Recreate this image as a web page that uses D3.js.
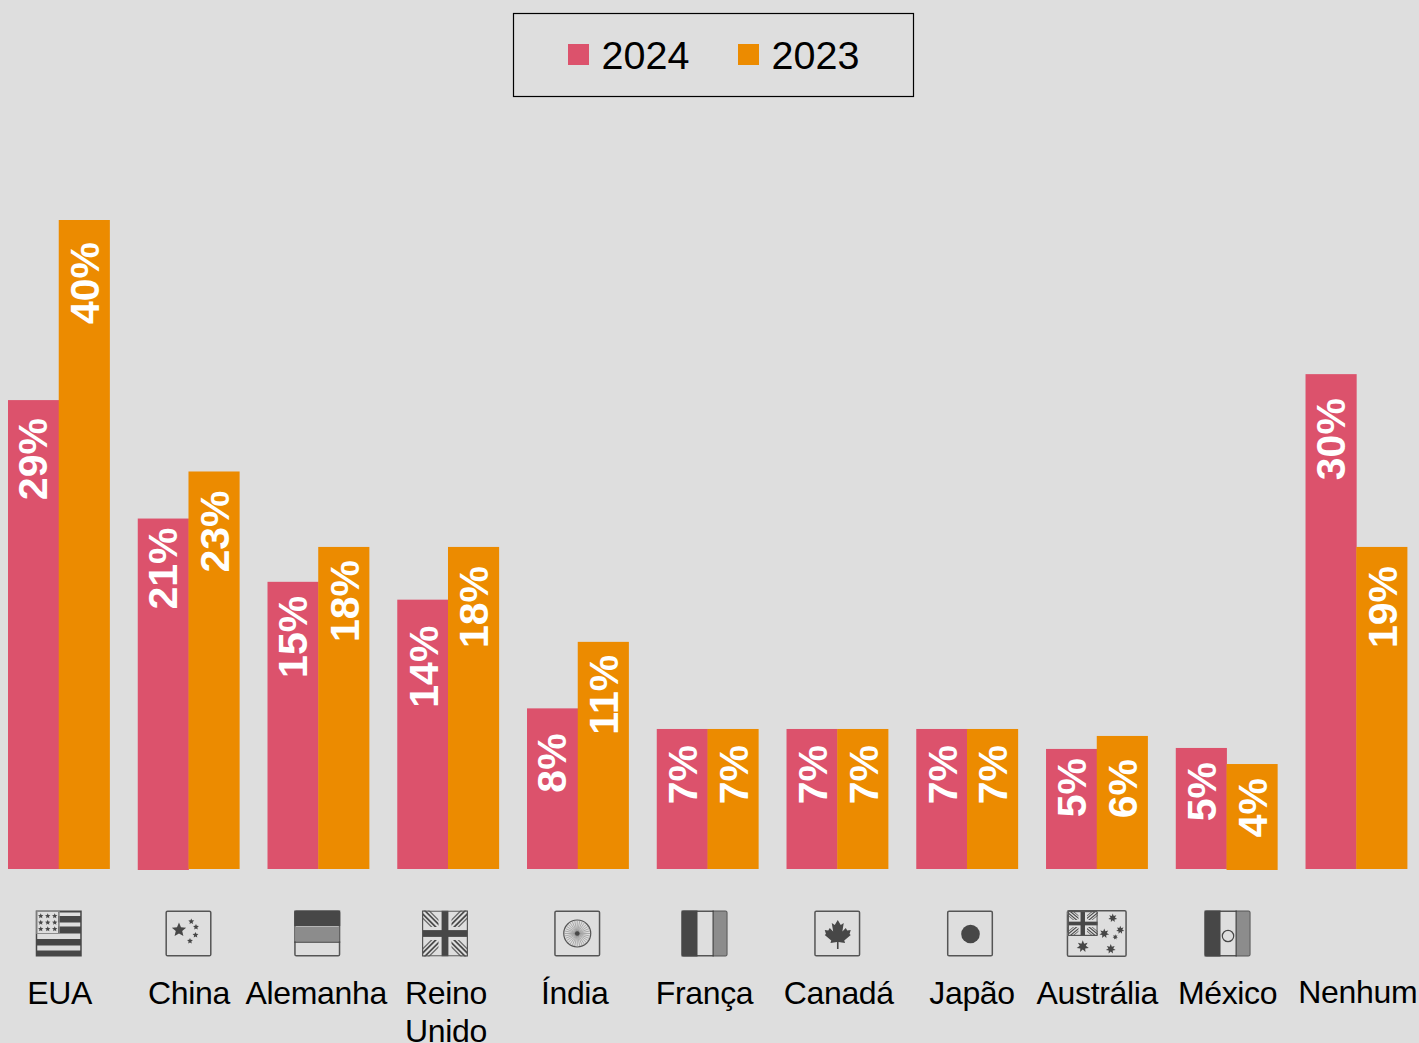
<!DOCTYPE html>
<html><head><meta charset="utf-8">
<script src="https://cdn.jsdelivr.net/npm/d3@7"></script>
<style>html,body{margin:0;padding:0;background:#dedede}svg{display:block;font-family:"Liberation Sans",Arial,sans-serif}</style>
</head><body><div id="c"></div>
<script>
const categories = ["EUA","China","Alemanha","Reino Unido","Índia","França","Canadá","Japão","Austrália","México","Nenhum"];
const seriesNames = ["2024","2023"];
// Printed labels
const labels2024 = [29,21,15,14,8,7,7,7,5,5,30];
const labels2023 = [40,23,18,18,11,7,7,7,6,4,19];
// Bar lengths (they do not follow the printed labels exactly)
const bars2024 = [28.9,21.6,17.7,16.6,9.9,8.63,8.63,8.63,7.4,7.46,30.5];
const bars2023 = [40,24.5,19.85,19.85,14,8.63,8.63,8.63,8.2,6.47,19.85];

// layout
const W=1419,H=1043,baseY=869,pxPerUnit=16.225;
const FLAG={EUA:"us",China:"cn",Alemanha:"de","Reino Unido":"uk","Índia":"in","França":"fr","Canadá":"ca","Japão":"jp","Austrália":"au","México":"mx"};
const insets2024=[18,9,14,26,25,16,16,16,9,14,24];
const insets2023=[22,19,13,19,13,16,16,16,23,14,19];
const labelNudge2024=[-1,-1.5,-1,0,-1,0,0,0,0,0,-1];
const feet2024=[0,1,0,0,0,0,0,0,0,0,0];
const feet2023=[0,0,0,0,0,0,0,0,0,1,0];
const tickNudge=[1,0.5,-2,-2,-3,-3,1.5,5,0.5,1,1.5];
const flagNudge=[0,0,-1,-3,-0.5,-3,0,3,0,1,0];
const colors={"2024":"#dc526c","2023":"#ec8b00"};
const labelDx={"2024":15,"2023":15};
const DK="#474747",MD="#8c8c8c",LT="#dedede";

const svg=d3.select("#c").append("svg").attr("width",W).attr("height",H);
svg.append("rect").attr("width",W).attr("height",H).attr("fill","#dedede");

const x=d3.scaleBand().domain(categories).range([8,1407]).paddingInner(0.218);
const xi=d3.scaleBand().domain(seriesNames).range([0,x.bandwidth()]);
const y=d3.scaleLinear().domain([0,H/pxPerUnit]).range([baseY,baseY-H]);

const seriesData=[
 {name:"2024",bars:bars2024,labels:labels2024,insets:insets2024,feet:feet2024,nudge:labelNudge2024},
 {name:"2023",bars:bars2023,labels:labels2023,insets:insets2023,feet:feet2023,nudge:categories.map(()=>0)}];

seriesData.forEach(s=>{
  const g=svg.append("g");
  const rows=categories.map((c,i)=>({c,v:s.bars[i],l:s.labels[i],ins:s.insets[i],f:s.feet[i],n:s.nudge[i]}));
  g.selectAll("rect").data(rows).join("rect")
    .attr("x",d=>x(d.c)+xi(s.name)).attr("width",xi.bandwidth()+0.4)
    .attr("y",d=>y(d.v)).attr("height",d=>y(0)-y(d.v)+d.f).attr("fill",colors[s.name]);
  g.selectAll("text").data(rows).join("text")
    .attr("transform",d=>`translate(${x(d.c)+xi(s.name)+xi.bandwidth()/2+labelDx[s.name]+d.n},${y(d.v)+d.ins}) rotate(-90)`)
    .attr("text-anchor","end").attr("fill","#fff").attr("font-weight","bold").attr("font-size",41)
    .text(d=>d.l+"%");
});

// legend
const lg=svg.append("g");
lg.append("rect").attr("x",513.5).attr("y",13.5).attr("width",400).attr("height",83).attr("fill","none").attr("stroke","#000").attr("stroke-width",1.2);
seriesNames.forEach((n,i)=>{
  const ox=568+i*170;
  lg.append("rect").attr("x",ox).attr("y",44).attr("width",21).attr("height",21).attr("fill",colors[n]);
  lg.append("text").attr("x",ox+33.5).attr("y",69).attr("font-size",39.5).attr("fill","#000").text(n);
});

// category axis
const axis=svg.append("g").attr("transform","translate(0,1004)").call(d3.axisBottom(x).tickSize(0));
axis.select(".domain").remove();
axis.selectAll(".tick").each(function(d,i){
  const t=d3.select(this).select("text");
  t.text(null).attr("y",0).attr("dy",0).attr("font-size",32).attr("font-family","inherit").attr("fill","#000").attr("text-anchor","middle").attr("letter-spacing",-0.35);
  d.split(" ").forEach((w,k)=>t.append("tspan").attr("x",tickNudge[i]).attr("y",k*38+(d==="Nenhum"?-1:0)).text(w));
});

// flags
let clipId=0;
function star(g,cx,cy,r,pts=5){
  const p=[];for(let i=0;i<pts*2;i++){const a=-Math.PI/2+i*Math.PI/pts,rr=i%2?r*(pts===5?0.45:0.5):r;p.push([cx+rr*Math.cos(a),cy+rr*Math.sin(a)]);}
  g.append("polygon").attr("points",p.map(q=>q.join(",")).join(" ")).attr("fill",DK);
}
function box(g,w=46,h=46){g.append("rect").attr("x",.7).attr("y",.7).attr("width",w-1.4).attr("height",h-1.4).attr("rx",1.4).attr("fill","none").attr("stroke","#555").attr("stroke-width",1.5);}
function rect(g,a,b,w,h,f){g.append("rect").attr("x",a).attr("y",b).attr("width",w).attr("height",h).attr("fill",f);}
function ukFlag(g0,w,h){
  const id="clip"+(clipId++);
  g0.append("clipPath").attr("id",id).append("rect").attr("width",w).attr("height",h);
  const g=g0.append("g").attr("clip-path",`url(#${id})`);
  const line=(a,b,c,d,sw,col)=>g.append("line").attr("x1",a).attr("y1",b).attr("x2",c).attr("y2",d).attr("stroke",col).attr("stroke-width",sw);
  rect(g,0,0,w,h,LT);
  const sw=w/46;
  [[0,0,w,h],[w,0,0,h]].forEach(([a,b,c,d])=>{
    line(a,b,c,d,11*sw,"#666");line(a,b,c,d,8.5*sw,LT);line(a,b,c,d,5.5*sw,DK);line(a,b,c,d,2.2*sw,LT);
  });
  rect(g,w/2-6.5*sw,0,13*sw,h,LT);rect(g,0,h/2-6.5*h/46,w,13*h/46,LT);
  rect(g,w/2-3.4*sw,0,6.8*sw,h,DK);rect(g,0,h/2-3.4*h/46,w,6.8*h/46,DK);
  g.append("rect").attr("x",.6).attr("y",.6).attr("width",w-1.2).attr("height",h-1.2).attr("fill","none").attr("stroke","#555").attr("stroke-width",1.2);
}
const leaf=[[0,-14],[3,-9],[6,-11],[4.6,-2.5],[8,-6],[9.5,-3.5],[13,-4],[11.8,0],[13,1],[6.5,6.4],[7.3,9],[0.8,8],[0.8,15],[-0.8,15],[-0.8,8],[-7.3,9],[-6.5,6.4],[-13,1],[-11.8,0],[-13,-4],[-9.5,-3.5],[-8,-6],[-4.6,-2.5],[-6,-11],[-3,-9]];
const draw={
 us(g){rect(g,0,0,46,46,DK);[[2,3.5],[12,4],[23,5.5],[35,5]].forEach(([a,h])=>rect(g,a<22?23:1.5,a,a<22?21.5:43,h,LT));
   rect(g,1.5,1.5,21,21,LT);g.append("rect").attr("x",1).attr("y",1).attr("width",22.5).attr("height",22).attr("fill","none").attr("stroke",MD).attr("stroke-width",1);
   for(let r=0;r<3;r++)for(let c=0;c<3;c++)star(g,5+c*7,5.5+r*6.5,2.8);},
 cn(g){box(g);star(g,13.5,19.5,7.5);star(g,25.8,11,3.1);star(g,30.5,16.5,3.1);star(g,30,24.5,3.1);star(g,24.5,30.5,3.1);},
 de(g){box(g);rect(g,0,0,46,15.5,DK);rect(g,1,16,44,15,MD);rect(g,0,31,46,1.3,DK);},
 uk(g){ukFlag(g,46,46);},
 in(g){box(g);const c=g.append("g").attr("transform","translate(23,23)");
   c.append("circle").attr("r",13.5).attr("fill","none").attr("stroke","#555").attr("stroke-width",1.2);
   d3.range(32).forEach(i=>{const a=i*Math.PI/16;c.append("line").attr("x1",0).attr("y1",0).attr("x2",12.8*Math.cos(a)).attr("y2",12.8*Math.sin(a)).attr("stroke","#777").attr("stroke-width",.5);});
   c.append("circle").attr("r",2.3).attr("fill",DK);},
 fr(g){box(g);rect(g,0,0,16,46,DK);rect(g,32,1,13,44,MD);rect(g,31,0,1.3,46,DK);},
 ca(g){box(g);const c=g.append("g").attr("transform","translate(23.5,23.5)");c.append("polygon").attr("points",leaf.map(p=>p.join(",")).join(" ")).attr("fill",DK);},
 jp(g){box(g);g.append("circle").attr("cx",23.5).attr("cy",23.5).attr("r",9.3).attr("fill",DK);},
 au(g){box(g,60,47);const u=g.append("g").attr("transform","translate(1,1)");ukFlag(u,30,25);
   star(g,46,8,4.5,7);star(g,37.5,23.5,5,7);star(g,53.5,20,4.2,7);star(g,48.5,27,2.8,7);star(g,16,36.5,6.2,7);star(g,44,39,5,7);},
 mx(g){box(g);rect(g,0,0,16,46,DK);rect(g,32,1,13,44,MD);rect(g,31,0,1.3,46,DK);
   g.append("circle").attr("cx",23.5).attr("cy",25.5).attr("r",5.7).attr("fill","none").attr("stroke",DK).attr("stroke-width",1.2);}
};
categories.forEach((c,i)=>{
  const k=FLAG[c];if(!k)return;
  const w=k==="au"?60:46;
  const g=svg.append("g").attr("transform",`translate(${x(c)+x.bandwidth()/2+flagNudge[i]-w/2},${k==="au"?910:910.5})`);
  draw[k](g);
});
</script></body></html>
